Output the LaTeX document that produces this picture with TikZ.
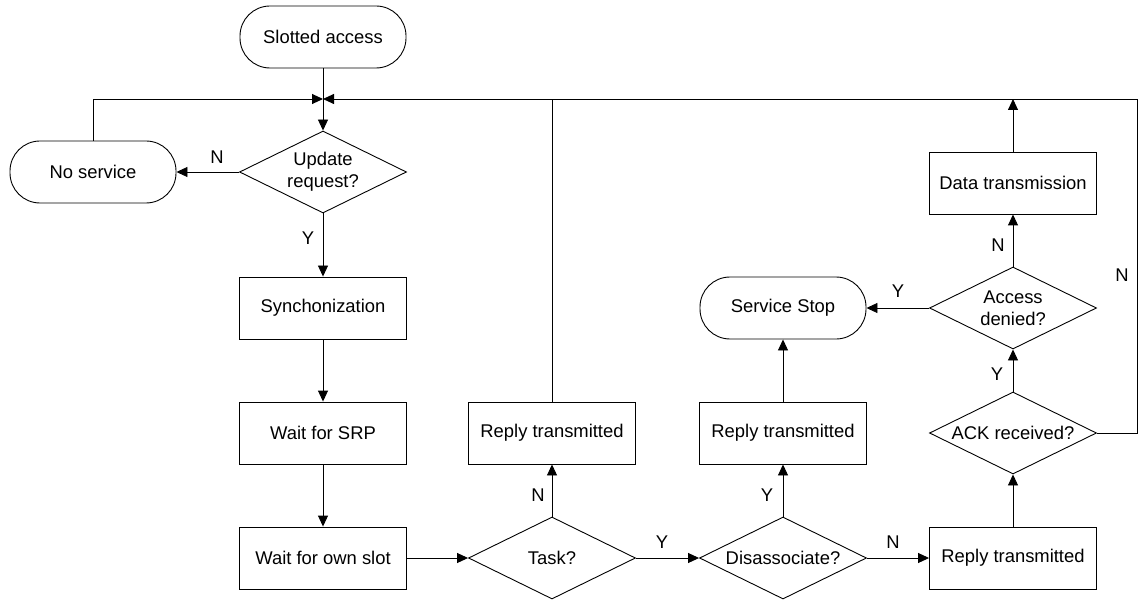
\documentclass[tikz,border=0pt]{standalone}
\usepackage{fontspec}
\setmainfont{Liberation Sans}
\usetikzlibrary{shapes.geometric,arrows.meta}
\begin{document}
\begin{tikzpicture}[x=1pt,y=-1pt,
  font=\fontsize{18.4}{22}\selectfont,
  every node/.style={inner sep=0pt},
  procbox/.style={draw,line width=0.9pt,rectangle,minimum width=167pt,minimum height=62pt},
  termbox/.style={draw,line width=0.9pt,rectangle,rounded corners=30pt,minimum width=166pt,minimum height=62pt},
  decbox/.style={draw,line width=0.9pt,diamond,aspect=2,minimum width=167pt,minimum height=82pt,align=center},
  conn/.style={line width=0.9pt},
  arr/.style={conn,-{Triangle[length=11pt,width=10pt]}},
  lbl/.style={inner sep=0pt}]
\useasboundingbox (0,0) rectangle (1139,601);
% nodes
\node[termbox] (start) at (323,37) {Slotted access};
\node[termbox] (noserv) at (93,172) {No service};
\node[decbox] (upd) at (323,172) {Update\\request?};
\node[procbox] (sync) at (323,308) {Synchonization};
\node[procbox] (srp) at (323,433) {Wait for SRP};
\node[procbox] (own) at (323,558) {Wait for own slot};
\node[decbox] (task) at (552,558) {Task?};
\node[procbox] (rep1) at (552,433) {Reply transmitted};
\node[decbox] (dis) at (783,558) {Disassociate?};
\node[procbox] (rep2) at (783,433) {Reply transmitted};
\node[termbox] (stop) at (783,308) {Service Stop};
\node[procbox] (rep3) at (1013,558) {Reply transmitted};
\node[decbox] (ack) at (1013,433) {ACK received?};
\node[decbox] (acc) at (1013,308) {Access\\denied?};
\node[procbox] (data) at (1013,183) {Data transmission};
\coordinate (m) at (323,99);
\coordinate (r) at (1137,99);
% connectors
\draw[arr] (start.south) -- (upd.north);
\draw[arr] (noserv.north) |- (m);
\draw[arr] (ack.east) -| (r) -- (m);
\draw[conn] (rep1.north) -- (rep1.north |- m);
\draw[arr] (data.north) -- (data.north |- m);
\draw[arr] (upd.west) -- (noserv.east);
\draw[arr] (upd.south) -- (sync.north);
\draw[arr] (sync.south) -- (srp.north);
\draw[arr] (srp.south) -- (own.north);
\draw[arr] (own.east) -- (task.west);
\draw[arr] (task.north) -- (rep1.south);
\draw[arr] (task.east) -- (dis.west);
\draw[arr] (dis.north) -- (rep2.south);
\draw[arr] (dis.east) -- (rep3.west);
\draw[arr] (rep2.north) -- (stop.south);
\draw[arr] (rep3.north) -- (ack.south);
\draw[arr] (ack.north) -- (acc.south);
\draw[arr] (acc.west) -- (stop.east);
\draw[arr] (acc.north) -- (data.south);
% labels
\node[lbl] (lN1) at (217,157) {N};
\node[lbl] (lY1) at (308,238) {Y};
\node[lbl] (lN2) at (538,495) {N};
\node[lbl] (lY2) at (662,542) {Y};
\node[lbl] (lY3) at (767,495) {Y};
\node[lbl] (lN3) at (893,542) {N};
\node[lbl] (lY4) at (997,374) {Y};
\node[lbl] (lY5) at (898,291) {Y};
\node[lbl] (lN4) at (998,245) {N};
\node[lbl] (lN5) at (1122,275) {N};
\end{tikzpicture}
\end{document}
